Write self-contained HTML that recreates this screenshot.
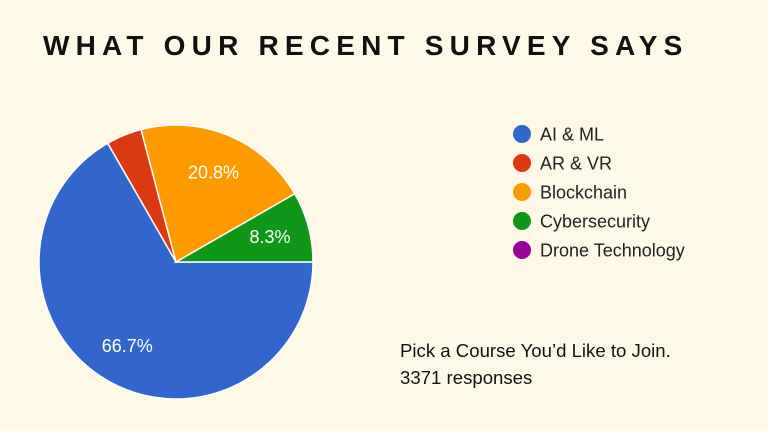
<!DOCTYPE html>
<html><head><meta charset="utf-8"><style>
html,body{margin:0;padding:0}
body{width:768px;height:431px;background:#fef9e7;position:relative;overflow:hidden;font-family:"Liberation Sans",sans-serif}
#title{position:absolute;left:43px;top:30px;font-size:28px;font-weight:bold;letter-spacing:6.2px;color:#111;white-space:nowrap}
.note{position:absolute;left:400px;font-size:18.6px;color:#111}
</style></head><body>
<div id="title">WHAT OUR RECENT SURVEY SAYS</div>
<svg id="chart" width="768" height="431" style="position:absolute;left:0;top:0"></svg>
<div class="note" style="top:340px">Pick a Course You’d Like to Join.</div>
<div class="note" style="top:367px">3371 responses</div>
<script>
const categories=["AI & ML","AR & VR","Blockchain","Cybersecurity","Drone Technology"];
const values=[66.7,4.2,20.8,8.3,0];
const colors=["#3366cc","#dc3912","#ff9900","#109618","#990099"];
const svg=document.getElementById('chart');
const NS='http://www.w3.org/2000/svg';
const cx=176,cy=262,r=137;
const total=values.reduce((a,b)=>a+b,0);
let a0=0;
function pt(a,rr){return [cx+rr*Math.cos(a),cy+rr*Math.sin(a)];}
values.forEach((v,i)=>{
  if(v<=0)return;
  const a1=a0+v/total*2*Math.PI;
  const p0=pt(a0,r),p1=pt(a1,r);
  const large=(a1-a0)>Math.PI?1:0;
  const path=document.createElementNS(NS,'path');
  path.setAttribute('d',`M${cx},${cy} L${p0[0]},${p0[1]} A${r},${r} 0 ${large} 1 ${p1[0]},${p1[1]} Z`);
  path.setAttribute('fill',colors[i]);
  path.setAttribute('stroke','#fff');
  path.setAttribute('stroke-width','1.5');
  
  
  svg.appendChild(path);
  if(v/total>0.05){
    const m=(a0+a1)/2,lp=pt(m,r*0.71);
    const t=document.createElementNS(NS,'text');
    t.setAttribute('x',lp[0]);t.setAttribute('y',lp[1]+6);
    t.setAttribute('text-anchor','middle');t.setAttribute('fill','#fff');
    t.setAttribute('font-size','18');t.setAttribute('font-family','Liberation Sans, sans-serif');
    t.textContent=v.toFixed(1)+'%';
    
    
    svg.appendChild(t);
  }
  a0=a1;
});
categories.forEach((c,i)=>{
  const y=134+i*29;
  const g=document.createElementNS(NS,'g');
  
  
  const ci=document.createElementNS(NS,'circle');
  ci.setAttribute('cx',522);ci.setAttribute('cy',y);ci.setAttribute('r',9);ci.setAttribute('fill',colors[i]);
  
  
  const t=document.createElementNS(NS,'text');
  t.setAttribute('x',540);t.setAttribute('y',y+6.5);
  t.setAttribute('font-size','18');t.setAttribute('fill','#222');
  t.setAttribute('font-family','Liberation Sans, sans-serif');
  t.textContent=c;
  
  
  g.appendChild(ci);g.appendChild(t);svg.appendChild(g);
});
</script>
</body></html>
